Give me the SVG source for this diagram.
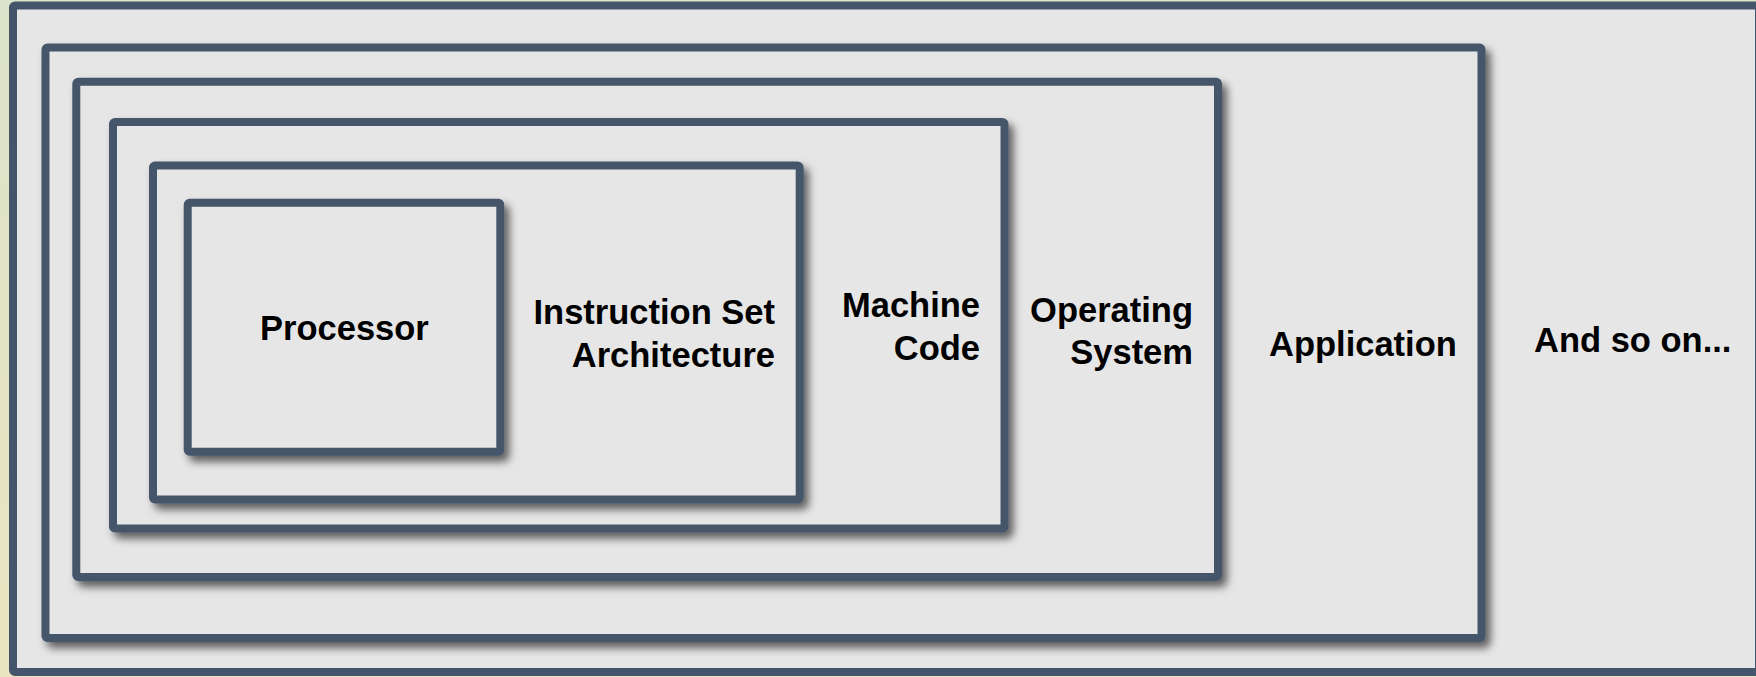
<svg xmlns="http://www.w3.org/2000/svg" width="1756" height="677" viewBox="0 0 1756 677">
<style>
.box{fill:#e6e6e6;stroke:#44546a;stroke-width:8;}
.sh{filter:url(#shadow);}
.lbl{font-family:"Liberation Sans",Arial,sans-serif;font-weight:bold;font-size:34.5px;fill:#000;}
</style>
<defs>
<linearGradient id="bg" x1="0" y1="0" x2="0" y2="1">
<stop offset="0" stop-color="#dce3ca"/>
<stop offset="1" stop-color="#e9e4bf"/>
</linearGradient>
<filter id="shadow" x="-5%" y="-5%" width="115%" height="120%">
<feDropShadow dx="5" dy="6" stdDeviation="4" flood-color="#000" flood-opacity="0.6"/>
</filter>
</defs>
<rect x="0" y="0" width="1756" height="677" fill="url(#bg)"/>
<g id="outer">
<rect class="box" x="13" y="5.5" width="1746" height="666.5" rx="2"/>
<text class="lbl" x="1534" y="352">And so on...</text>
</g>
<g id="application">
<rect class="box sh" x="45.5" y="47.5" width="1436" height="590.5" rx="2"/>
<text class="lbl" x="1269" y="356">Application</text>
</g>
<g id="operating-system">
<rect class="box sh" x="76.3" y="81.7" width="1141.7" height="495.3" rx="2"/>
<text class="lbl" text-anchor="end"><tspan x="1193" y="322">Operating</tspan><tspan x="1193" y="364">System</tspan></text>
</g>
<g id="machine-code">
<rect class="box sh" x="113" y="122" width="891.5" height="406.5" rx="2"/>
<text class="lbl" text-anchor="end"><tspan x="980" y="317">Machine</tspan><tspan x="980" y="360">Code</tspan></text>
</g>
<g id="isa">
<rect class="box sh" x="153" y="165.5" width="646.7" height="334" rx="2"/>
<text class="lbl" text-anchor="end"><tspan x="775" y="324">Instruction Set</tspan><tspan x="775" y="367">Architecture</tspan></text>
</g>
<g id="processor">
<rect class="box sh" x="187.7" y="202.8" width="312.6" height="249" rx="2"/>
<text class="lbl" text-anchor="middle" x="344.4" y="340">Processor</text>
</g>
<g id="connectors"/>
</svg>
